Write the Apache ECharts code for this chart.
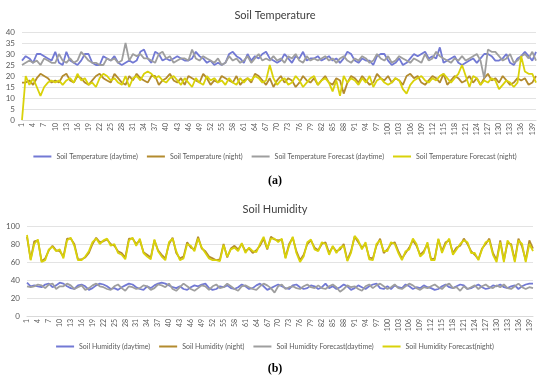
<!DOCTYPE html>
<html><head><meta charset="utf-8">
<script src="https://cdn.jsdelivr.net/npm/echarts@6/dist/echarts.min.js"></script>
<style>html,body{margin:0;padding:0;background:#fff}#c{width:550px;height:386px}</style>
</head><body><div id="c"></div>
<script>
const days = Array.from({length:140},(_, i)=>String(i+1));

const tempDay = [27,29,28,26,30,30,29,28,27,31, 26,25,31,27,26,25,27,30,30,26, 25,25,29,28,27,29,26,25,26,27, 26,27,31,32,28,26,31,30,27,28, 27,28,29,28,27,27,28,31,29,28, 26,27,25,26,25,26,30,31,29,28, 26,30,27,29,28,30,31,28,27,26, 27,30,28,26,29,28,31,27,28,28, 29,27,28,29,27,28,26,28,31,30, 27,26,28,27,27,25,29,30,30,27, 25,26,28,25,26,28,30,29,30,31, 28,29,28,33,26,27,28,29,26,25, 26,27,28,26,28,30,30,29,27,27, 28,30,26,25,28,29,31,29,27,31];
const tempNight = [17,17,18,16,19,21,20,19,17,18, 17,20,21,18,17,20,19,17,16,18, 20,21,19,18,17,21,19,17,16,20, 18,21,19,18,17,20,20,16,18,19, 21,18,17,19,16,20,19,18,17,21, 19,16,18,17,20,19,18,17,20,16, 18,19,17,21,20,18,16,19,15,18, 20,17,19,18,15,17,20,18,17,19, 16,18,20,17,16,19,18,12,17,20, 19,17,20,18,16,17,21,19,18,20, 17,19,18,16,20,21,19,20,17,16, 18,20,19,17,21,16,18,20,19,17, 18,20,17,19,16,19,21,18,19,17, 20,18,16,17,19,18,19,16,17,20];
const tempFcDay = [25,26,27,26,27,25,28,27,26,26, 30,27,26,28,26,27,31,29,27,26, 26,25,25,28,27,28,26,27,35,27, 30,29,30,28,28,27,26,30,31,28, 29,26,27,28,28,27,32,28,27,29, 28,27,26,28,25,26,29,27,28,26, 27,29,26,28,30,27,28,27,29,27, 28,26,29,28,30,27,26,29,27,28, 27,28,29,27,28,26,28,29,27,26, 28,27,29,28,26,27,30,28,27,29, 26,27,29,28,27,26,28,27,26,30, 27,28,31,29,28,27,26,28,27,29, 27,28,29,30,27,19,32,31,31,29, 27,28,30,26,27,29,30,28,31,27];
const tempFcNight = [0,20,16,19,15,11,15,17,18,17, 18,16,18,19,17,21,18,19,16,17, 15,19,21,20,18,19,17,16,20,15, 19,20,18,21,22,21,19,20,18,17, 19,20,18,16,19,17,15,19,17,16, 20,18,19,17,18,16,19,17,16,19, 17,19,18,20,19,17,18,25,19,16, 18,19,16,17,20,18,15,17,19,20, 16,18,19,17,13,18,11,20,17,19, 18,16,19,17,20,15,18,19,17,16, 17,19,18,14,12,16,18,19,20,18, 17,19,18,20,21,19,17,19,21,25, 20,15,20,19,16,18,17,19,18,14, 16,18,17,15,17,29,22,21,21,17];

const humDay = [37,33,34,33,32,35,36,32,34,37, 36,33,31,30,34,35,33,29,31,34, 36,35,33,30,31,29,32,34,36,35, 32,30,29,33,31,34,36,37,36,34, 32,31,33,30,29,32,34,33,35,36, 31,29,30,33,32,34,31,30,32,35, 33,30,31,34,36,33,29,31,33,35, 33,31,30,34,35,32,30,31,34,33, 30,32,36,31,33,30,32,35,33,29, 31,34,32,30,33,35,36,31,30,33, 30,34,32,31,35,33,30,32,31,34, 32,31,29,30,33,35,32,31,33,35, 34,30,31,33,35,32,30,31,34,33, 35,32,31,33,34,30,33,35,36,36];
const humNight = [88,63,83,84,61,64,73,78,73,72, 66,86,86,80,63,63,65,70,80,87, 82,83,85,80,78,72,70,65,86,86, 80,84,71,68,65,84,73,68,64,80, 87,70,64,66,82,76,74,88,75,72, 66,64,62,63,80,65,75,78,74,80, 72,75,70,73,78,86,74,88,85,84, 85,65,80,87,72,62,68,80,84,76, 73,80,82,70,77,72,74,80,62,72, 88,82,76,80,65,64,78,86,70,74, 80,82,72,64,70,76,84,78,68,72, 80,63,64,85,72,82,84,70,76,78, 86,80,72,68,63,75,80,86,70,62, 84,62,81,80,62,86,77,62,84,75];
const humFcDay = [33,32,33,35,34,31,35,36,30,33, 33,36,34,30,32,34,29,31,34,36, 33,32,30,29,33,35,31,28,33,32, 30,31,34,33,29,31,35,34,32,36, 30,28,32,36,33,30,28,31,34,33, 29,33,35,31,32,36,33,30,28,33, 34,32,30,29,33,36,34,31,26,33, 35,30,32,33,31,30,33,35,32,31, 34,31,30,33,35,32,27,30,34,32, 33,30,28,33,35,31,34,36,33,30, 32,35,31,30,33,36,34,31,29,32, 31,33,35,32,30,34,36,31,32,28, 33,30,32,34,30,33,35,32,31,34, 32,35,31,30,33,36,32,30,32,31];
const humFcNight = [90,62,80,85,60,62,74,77,72,74, 64,84,87,78,62,62,66,72,82,86, 80,84,86,78,80,70,68,63,84,87, 78,86,70,66,63,85,72,66,62,82, 86,72,62,64,80,78,72,86,76,70, 64,62,62,61,79,66,74,76,72,81, 70,76,72,71,80,88,75,86,86,82, 86,64,78,88,70,60,66,82,85,74, 72,82,80,68,78,70,76,78,61,70, 89,84,74,82,63,62,80,84,72,72, 82,80,70,62,72,74,86,80,66,70, 82,62,62,86,70,80,86,68,74,80, 84,82,70,70,62,74,82,84,68,60, 82,60,84,78,60,84,80,60,80,72];

const tempNames = ['Soil Temperature (daytime)','Soil Temperature (night)','Soil Temperature Forecast (daytime)','Soil Temperature Forecast (night)'];
const humNames = ['Soil Humidity (daytime)','Soil Humidity (night)','Soil Humidity Forecast(daytime)','Soil Humidity Forecast(night)'];
const colors = ['#7279d4','#b38b2e','#9e9e9e','#d9d20a'];

const FONT = 'Lato';
const txt = '#595959';

function xAx(g){
  return {type:'category', gridIndex:g, data:days, boundaryGap:false,
    axisTick:{show:false}, axisLine:{lineStyle:{color:'#d9d9d9'}},
    axisLabel:{interval:2, rotate:90, fontSize:7, color:txt, margin:3, fontFamily:FONT}};
}
function yAx(g,max,iv){
  return {type:'value', gridIndex:g, min:0, max:max, interval:iv,
    axisLine:{show:false}, axisTick:{show:false},
    axisLabel:{fontSize:8, color:txt, margin:7, fontFamily:FONT},
    splitLine:{lineStyle:{color:'#e3e3e3', width:1}}};
}
function ln(name, data, g, ci){
  return {type:'line', name:name, data:data, xAxisIndex:g, yAxisIndex:g,
    showSymbol:false, symbol:'none', lineStyle:{width:1.8, color:colors[ci]}, itemStyle:{color:colors[ci]}};
}
const legendCommon = {icon:'rect', itemWidth:18, itemHeight:2, itemGap:9, left:'center',
  textStyle:{fontSize:7, color:txt, fontFamily:FONT}};

const chart = echarts.init(document.getElementById('c'), null, {renderer:'canvas'});
chart.setOption({
  animation:false,
  backgroundColor:'#fff',
  title:[
    {text:'Soil Temperature', left:'center', top:5, textStyle:{fontSize:11, fontWeight:'normal', color:'#404040', fontFamily:FONT}},
    {text:'Soil Humidity', left:'center', top:199, textStyle:{fontSize:11, fontWeight:'normal', color:'#404040', fontFamily:FONT}}
  ],
  legend:[
    Object.assign({}, legendCommon, {top:148, data:tempNames}),
    Object.assign({}, legendCommon, {top:338, data:humNames})
  ],
  grid:[{left:22, width:514, top:32, height:88}, {left:27, width:506, top:226, height:90}],
  xAxis:[xAx(0), xAx(1)],
  yAxis:[yAx(0,40,5), yAx(1,100,20)],
  series:[
    ln(tempNames[0], tempDay, 0, 0),
    ln(tempNames[1], tempNight, 0, 1),
    ln(tempNames[2], tempFcDay, 0, 2),
    ln(tempNames[3], tempFcNight, 0, 3),
    ln(humNames[0], humDay, 1, 0),
    ln(humNames[1], humNight, 1, 1),
    ln(humNames[2], humFcDay, 1, 2),
    ln(humNames[3], humFcNight, 1, 3)
  ],
  graphic:[
    {type:'text', left:'center', top:175, style:{text:'(a)', font:'bold 12px "Liberation Serif"', fill:'#000'}},
    {type:'text', left:'center', top:363, style:{text:'(b)', font:'bold 12px "Liberation Serif"', fill:'#000'}}
  ]
});
</script></body></html>
